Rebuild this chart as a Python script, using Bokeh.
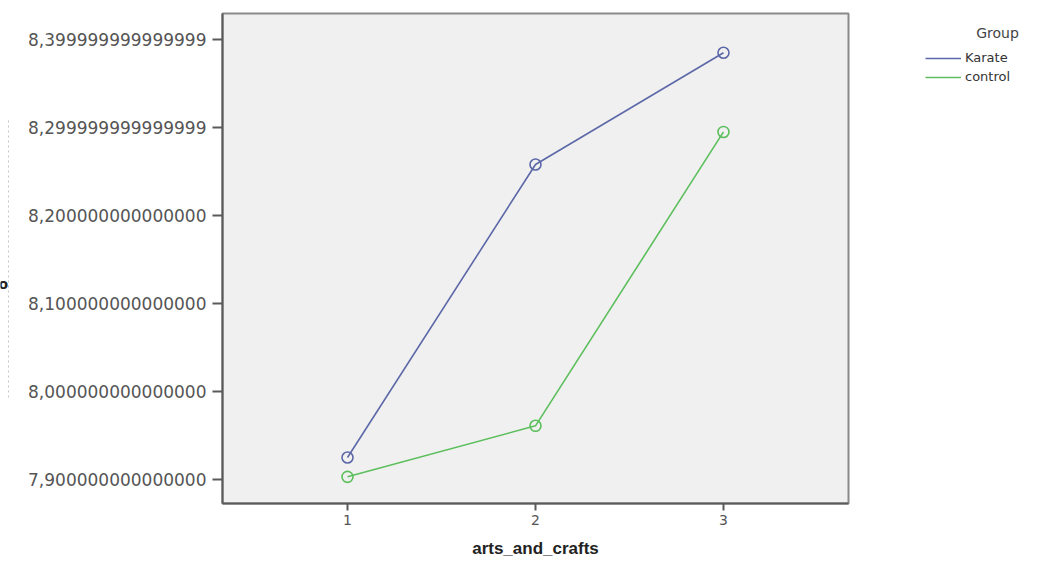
from bokeh.plotting import figure
from bokeh.layouts import row
from bokeh.models import (Range1d, FixedTicker, Legend, LegendItem, Label,
                          ColumnDataSource)
from bokeh.embed import file_html
from bokeh.resources import INLINE

# Estimated marginal means by arts_and_crafts level
levels = [1, 2, 3]
karate = [7.925, 8.258, 8.385]
control = [7.903, 7.961, 8.295]

y_ticks = [7.9, 8.0, 8.1, 8.2, 8.3, 8.4]
y_tick_labels = ["7,900000000000000", "8,000000000000000", "8,100000000000000",
                 "8,200000000000000", "8,299999999999999", "8,399999999999999"]
x_ticks = [1, 2, 3]

KARATE_COLOR = "#5c68a8"
CONTROL_COLOR = "#5cbf5c"

H = 563
TOP, BOTTOM = 13, 503          # vertical extent of the plot frame (page px)
LEFT_W = 14
MAIN_W = 866
RIGHT_W = 1046 - LEFT_W - MAIN_W


def strip(width, x0):
    """Plain white panel whose data units are page pixels (y grows downward).
    Row layout aligns its frame with the main plot frame."""
    f = figure(width=width, height=H, output_backend="svg", toolbar_location=None,
               x_range=Range1d(x0, x0 + width), y_range=Range1d(BOTTOM, TOP),
               x_axis_location=None, y_axis_location=None,
               min_border_left=0, min_border_right=0,
               min_border_top=TOP, min_border_bottom=H - BOTTOM)
    f.outline_line_color = None
    f.background_fill_color = "white"
    f.border_fill_color = "white"
    f.xgrid.visible = False
    f.ygrid.visible = False
    return f


# ---- left strip: clipped y-axis title remnant
left = strip(LEFT_W, 0)
left.segment(x0=[8], y0=[120], x1=[8], y1=[400], line_color="#c4c4c4",
             line_width=1, line_dash="2 3")
left.add_layout(Label(x=-2, y=283, text="o", text_align="left",
                      text_baseline="middle", text_font="DejaVu Sans",
                      text_font_style="bold", text_font_size="14px",
                      text_color="#222222"))

# ---- main plot
p = figure(width=MAIN_W, height=H, output_backend="svg", toolbar_location=None,
           x_range=Range1d(0.335, 3.665), y_range=Range1d(7.8727, 8.4296),
           min_border_left=222 - LEFT_W, min_border_right=MAIN_W + LEFT_W - 848,
           min_border_top=TOP, min_border_bottom=H - BOTTOM)

p.background_fill_color = "#f0f0f0"
p.border_fill_color = "white"
p.outline_line_color = "#8a8a8a"
p.outline_line_width = 2
p.xgrid.visible = False
p.ygrid.visible = False

for ax in (p.xaxis[0], p.yaxis[0]):
    ax.axis_line_color = "#5a5a5a"
    ax.axis_line_width = 2
    ax.major_tick_line_color = "#5a5a5a"
    ax.major_tick_line_width = 2
    ax.minor_tick_line_color = None
    ax.major_tick_in = 0
    ax.major_label_text_color = "#555555"

p.yaxis.ticker = FixedTicker(ticks=y_ticks)
p.yaxis.major_label_overrides = {t: s for t, s in zip(y_ticks, y_tick_labels)}
p.yaxis.major_label_text_font = "DejaVu Sans"
p.yaxis.major_label_text_font_size = "17px"
p.yaxis.major_tick_out = 10
p.yaxis.major_label_standoff = 6

p.xaxis.ticker = FixedTicker(ticks=x_ticks)
p.xaxis.major_label_text_font = "DejaVu Sans"
p.xaxis.major_label_text_font_size = "14px"
p.xaxis.major_tick_out = 7
p.xaxis.major_label_standoff = 4
p.xaxis.axis_label = "arts_and_crafts"
p.xaxis.axis_label_text_font = "Liberation Sans"
p.xaxis.axis_label_text_font_style = "bold"
p.xaxis.axis_label_text_font_size = "17px"
p.xaxis.axis_label_text_color = "#222222"
p.xaxis.axis_label_standoff = 11

src_k = ColumnDataSource(dict(x=levels, y=karate))
src_c = ColumnDataSource(dict(x=levels, y=control))

p.line("x", "y", source=src_k, line_color=KARATE_COLOR, line_width=1.6)
p.scatter("x", "y", source=src_k, marker="circle", size=11, fill_color=None,
          line_color=KARATE_COLOR, line_width=1.6)
p.line("x", "y", source=src_c, line_color=CONTROL_COLOR, line_width=1.6)
p.scatter("x", "y", source=src_c, marker="circle", size=11, fill_color=None,
          line_color=CONTROL_COLOR, line_width=1.6)

# ---- right strip: legend (key renderers sit outside the visible range)
right = strip(RIGHT_W, LEFT_W + MAIN_W)
key_k = right.line(x=[0, 0], y=[0, 0], line_color=KARATE_COLOR, line_width=1.6)
key_c = right.line(x=[0, 0], y=[0, 0], line_color=CONTROL_COLOR, line_width=1.6)
legend = Legend(items=[LegendItem(label="Karate", renderers=[key_k]),
                       LegendItem(label="control", renderers=[key_c])],
                location=(925 - (LEFT_W + MAIN_W), BOTTOM - 84),
                orientation="vertical", background_fill_alpha=0,
                border_line_color=None, padding=0, margin=0, spacing=4,
                label_height=14, glyph_height=14, glyph_width=36,
                label_standoff=4, label_text_font="DejaVu Sans",
                label_text_font_size="13px", label_text_color="#333333")
right.add_layout(legend)
right.add_layout(Label(x=997, y=32, text="Group", text_align="center",
                       text_baseline="middle", text_font="DejaVu Sans",
                       text_font_size="14px", text_color="#444444"))

layout = row(left, p, right, spacing=0)
open("out.html", "w").write(file_html(layout, INLINE))
